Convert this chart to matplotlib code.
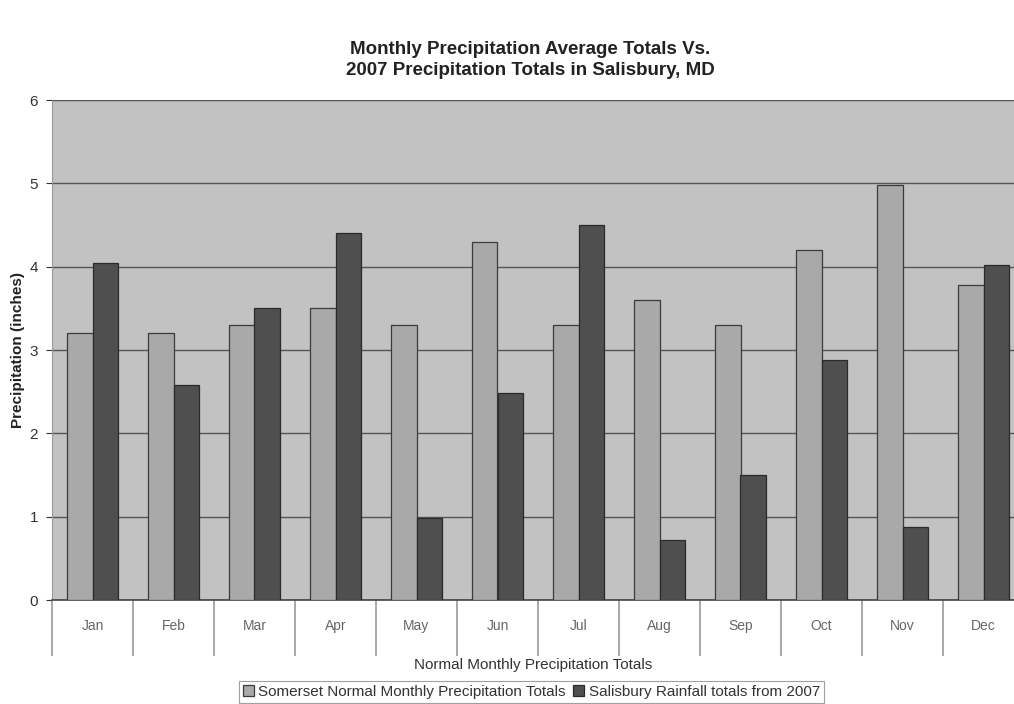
import numpy as np
import matplotlib
matplotlib.use('Agg')
import matplotlib.pyplot as plt

plt.rcParams['font.family'] = ['Liberation Sans', 'DejaVu Sans']

months = ['Jan', 'Feb', 'Mar', 'Apr', 'May', 'Jun',
          'Jul', 'Aug', 'Sep', 'Oct', 'Nov', 'Dec']
# 平年値 (Somerset) と 2007年実績 (Salisbury)
normal_totals = [3.2, 3.2, 3.3, 3.5, 3.3, 4.3, 3.3, 3.6, 3.3, 4.2, 4.98, 3.78]
rain_2007 = [4.05, 2.58, 3.5, 4.4, 0.98, 2.48, 4.5, 0.72, 1.5, 2.88, 0.88, 4.02]
series_names = ['Somerset Normal Monthly Precipitation Totals',
                'Salisbury Rainfall totals from 2007']

fig = plt.figure(figsize=(10.14, 7.04), dpi=100)
ax = fig.add_axes([52 / 1014, 104 / 704, 972 / 1014, 500 / 704])
ax.set_facecolor('#c2c2c2')

x = np.arange(len(months))
w = 0.31
ax.bar(x - w / 2, normal_totals, w, color='#a9a9a9', edgecolor='#3a3a3a',
       linewidth=0.9, label=series_names[0], zorder=3)
ax.bar(x + w / 2, rain_2007, w, color='#4f4f4f', edgecolor='#2a2a2a',
       linewidth=0.9, label=series_names[1], zorder=3)

ax.set_ylim(0, 6)
ax.set_xlim(-0.5, len(months) - 0.5)
ax.set_yticks(range(0, 7))
ax.yaxis.grid(True, color='#555555', linewidth=1.0, zorder=1)
ax.tick_params(axis='y', labelsize=11, colors='#333333', length=4, pad=6)

# 月ラベルは中央、区切り線は境界に長い目盛りで描く
ax.set_xticks(x)
ax.set_xticklabels(months, fontsize=10, color='#666666')
ax.tick_params(axis='x', which='major', length=0, pad=14)
ax.set_xticks(np.arange(-0.5, len(months)), minor=True)
ax.tick_params(axis='x', which='minor', length=40, color='#9a9a9a', width=1.2)

for side in ['top', 'right']:
    ax.spines[side].set_visible(False)
ax.spines['left'].set_color('#999999')
ax.spines['bottom'].set_color('#444444')
ax.spines['bottom'].set_linewidth(1.2)

ax.set_ylabel('Precipitation (inches)', fontsize=11, fontweight='bold',
              color='#222222')
ax.yaxis.set_label_coords(-0.028, 0.5)
ax.set_xlabel('Normal Monthly Precipitation Totals', fontsize=11,
              color='#333333')
ax.xaxis.set_label_coords(0.495, -0.116)

fig.text(0.523, 0.915, 'Monthly Precipitation Average Totals Vs.\n'
         '2007 Precipitation Totals in Salisbury, MD',
         ha='center', va='center', fontsize=13.5, fontweight='bold',
         color='#222222', linespacing=1.3)

leg = fig.legend(loc='center', bbox_to_anchor=(0.524, 0.017), ncol=2,
                 fontsize=11, frameon=True, fancybox=False,
                 handlelength=0.7, handleheight=0.7, handletextpad=0.3,
                 columnspacing=0.5, borderpad=0.25, borderaxespad=0)
leg.get_frame().set_edgecolor('#888888')
leg.get_frame().set_linewidth(0.8)
for t in leg.get_texts():
    t.set_color('#333333')

fig.savefig('out.png', dpi=100)
